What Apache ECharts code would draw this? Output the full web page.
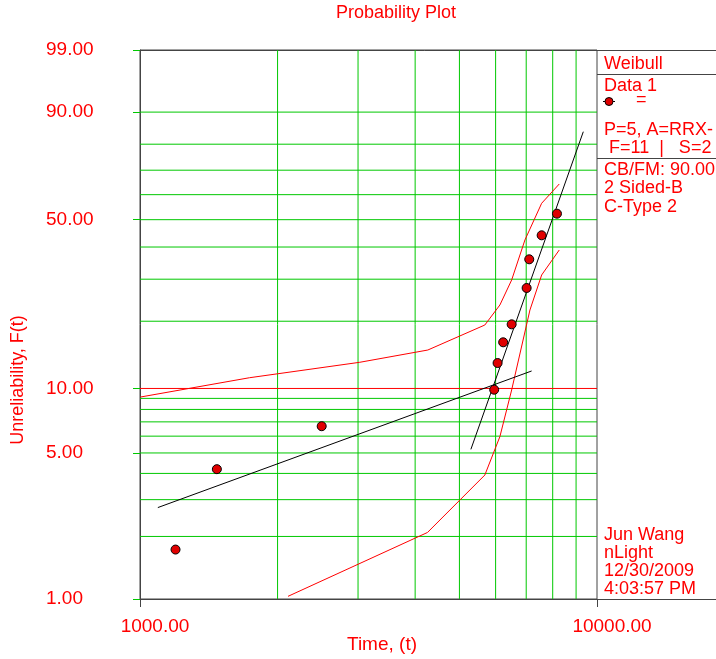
<!DOCTYPE html>
<html>
<head>
<meta charset="utf-8">
<script src="https://cdn.jsdelivr.net/npm/echarts@6/dist/echarts.min.js"></script>
<style>
html, body { margin: 0; padding: 0; background: #fff; }
#main { width: 716px; height: 659px; }
</style>
</head>
<body>
<div id="main"></div>
<script>
// failure times and unreliability (%)
var times = [1196, 1473, 2498, 5957, 6060, 6233, 6505, 7015, 7108, 7566, 8173];
var unrel = [1.73, 4.19, 6.68, 9.87, 13.06, 16.17, 19.39, 27.63, 35.94, 44.13, 52.34];

// two fitted lines (end points, time / %)
var fitAT = [1094, 7194];
var fitAF = [2.75, 12.02];
var fitBT = [5297, 9333];
var fitBF = [5.20, 84.28];

// confidence bounds
var upperT = [1002, 1737, 3026, 4264, 5683, 6131, 6505, 6955, 7566, 8268];
var upperF = [9.13, 11.20, 13.16, 14.94, 19.26, 23.47, 29.78, 42.45, 56.49, 64.38];
var lowerT = [2108, 4257, 5683, 6131, 6505, 7133, 7566, 8268];
var lowerF = [1.03, 2.09, 3.93, 5.97, 9.84, 22.35, 31.19, 38.99];

var yTicks = [1, 5, 10, 50, 90, 99];
var yGrid = [2, 3, 4, 5, 6, 7, 8, 9, 20, 30, 40, 50, 60, 70, 80, 90];
var yRed = [10];
var xGrid = [2000, 3000, 4000, 5000, 6000, 7000, 8000, 9000];

var infoTop = ['Weibull', 'Data 1'];
var infoMid = ['P=5, A=RRX-', ' F=11  |   S=2'];
var infoCB = ['CB/FM: 90.00', '2 Sided-B', 'C-Type 2'];
var infoUser = ['Jun Wang', 'nLight', '12/30/2009', '4:03:57 PM'];

var RED = '#ff0000';
var GREEN = '#00c800';
var FONT = '"Liberation Sans", Arial, sans-serif';
var T0 = 1000, T1 = 10000, P0 = 1, P1 = 99;

// Weibull probability scale
function wb(p) { return Math.log(-Math.log(1 - p / 100)); }
function unwb(y) { return 100 * (1 - Math.exp(-Math.exp(y))); }

function pairs(ts, fs) {
    return ts.map(function (t, i) { return [t, wb(fs[i])]; });
}

var myChart = echarts.init(document.getElementById('main'));

var graphics = [];
function txt(s, x, y) {
    graphics.push({
        type: 'text', x: x, y: y, silent: true,
        style: { text: s, fill: RED, font: '18px ' + FONT, verticalAlign: 'middle' }
    });
}
function hline(x1, x2, y) {
    graphics.push({
        type: 'line', silent: true,
        shape: { x1: x1, y1: y, x2: x2, y2: y },
        style: { stroke: '#444', lineWidth: 1 }
    });
}
hline(133, 716, 50.5);
hline(133, 716, 599.5);
hline(597, 716, 74.5);
hline(597, 716, 158.5);
txt(infoTop[0], 604, 64);
txt(infoTop[1], 604, 86);
graphics.push({ type: 'line', silent: true, shape: { x1: 603, y1: 101.5, x2: 615, y2: 101.5 }, style: { stroke: '#000', lineWidth: 1 } });
graphics.push({ type: 'circle', silent: true, shape: { cx: 609, cy: 101.5, r: 4 }, style: { fill: '#e00000', stroke: '#000', lineWidth: 1 } });
txt('=', 636, 100);
infoMid.forEach(function (s, i) { txt(s, 604, 130 + i * 18); });
infoCB.forEach(function (s, i) { txt(s, 604, 170 + i * 18.5); });
infoUser.forEach(function (s, i) { txt(s, 604, 535 + i * 18); });
graphics.push({
    type: 'text', x: 18, y: 380, rotation: Math.PI / 2, silent: true,
    style: { text: 'Unreliability, F(t)', fill: RED, font: '18px ' + FONT, align: 'center', verticalAlign: 'middle' }
});

// grid lines as plain two-point line series
function gridSeries(data, color) {
    return {
        type: 'line', data: data, showSymbol: false, silent: true, z: 1,
        lineStyle: { color: color, width: 1 }
    };
}
var series = [];
yGrid.forEach(function (p) {
    series.push(gridSeries([[T0, wb(p)], [T1, wb(p)]], GREEN));
});
xGrid.forEach(function (t) {
    series.push(gridSeries([[t, wb(P0)], [t, wb(P1)]], GREEN));
});
yRed.forEach(function (p) {
    series.push(gridSeries([[T0, wb(p)], [T1, wb(p)]], RED));
});

series.push({
    name: 'upper', type: 'line', data: pairs(upperT, upperF), showSymbol: false,
    lineStyle: { color: RED, width: 1 }, z: 3, silent: true
});
series.push({
    name: 'lower', type: 'line', data: pairs(lowerT, lowerF), showSymbol: false,
    lineStyle: { color: RED, width: 1 }, z: 3, silent: true
});
series.push({
    name: 'fitA', type: 'line', data: pairs(fitAT, fitAF), showSymbol: false,
    lineStyle: { color: '#000', width: 1 }, z: 4, silent: true
});
series.push({
    name: 'fitB', type: 'line', data: pairs(fitBT, fitBF), showSymbol: false,
    lineStyle: { color: '#000', width: 1 }, z: 4, silent: true
});
series.push({
    name: 'Data 1', type: 'scatter', data: pairs(times, unrel),
    symbol: 'circle', symbolSize: 9,
    itemStyle: { color: '#e00000', borderColor: '#000', borderWidth: 1, opacity: 1 },
    z: 5, silent: true
});

var option = {
    animation: false,
    backgroundColor: '#fff',
    title: {
        text: 'Probability Plot',
        left: 391, top: -1, textAlign: 'center',
        textStyle: { color: RED, fontSize: 18, fontWeight: 'normal', fontFamily: FONT }
    },
    grid: {
        left: 140, right: 119, top: 50, bottom: 60,
        outerBoundsMode: 'none', containLabel: false,
        show: true, borderColor: '#444', borderWidth: 1
    },
    xAxis: {
        type: 'log', logBase: 10, min: T0, max: T1,
        name: 'Time, (t)', nameLocation: 'middle', nameGap: 36, nameMoveOverlap: false,
        nameTextStyle: { color: RED, fontSize: 19, fontFamily: FONT, padding: [0, 0, 0, 27] },
        axisLine: { onZero: false, lineStyle: { color: '#444' } },
        axisTick: { show: true, length: 8, lineStyle: { color: '#444' } },
        axisLabel: {
            color: RED, fontSize: 19, fontFamily: FONT, margin: 18,
            padding: [0, 0, 0, 30],
            formatter: function (v) { return v.toFixed(2); }
        },
        splitLine: { show: false }
    },
    yAxis: {
        type: 'value', min: wb(P0), max: wb(P1),
        axisLine: { onZero: false, lineStyle: { color: '#444' } },
        axisTick: {
            show: true, length: 7, customValues: yTicks.map(wb),
            lineStyle: { color: GREEN }
        },
        axisLabel: {
            color: RED, fontSize: 19, fontFamily: FONT, align: 'left', margin: 94,
            customValues: yTicks.map(wb),
            formatter: function (v) { return unwb(v).toFixed(2); }
        },
        splitLine: { show: false }
    },
    graphic: graphics,
    series: series
};

myChart.setOption(option);
</script>
</body>
</html>
